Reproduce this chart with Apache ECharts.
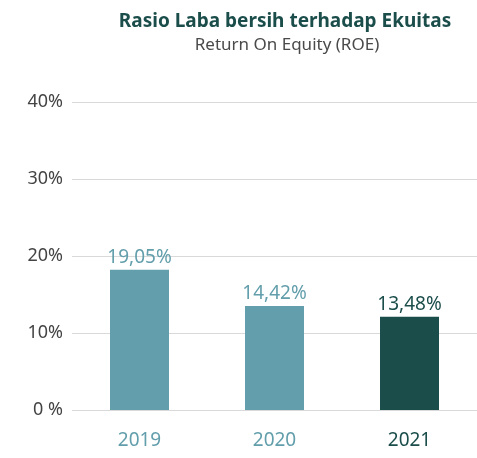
<!DOCTYPE html>
<html>
<head>
<meta charset="utf-8">
<script src="https://cdn.jsdelivr.net/npm/echarts@6/dist/echarts.min.js"></script>
<style>
  html, body { margin: 0; padding: 0; background: #fff; }
  #main { width: 477px; height: 458px; }
</style>
</head>
<body>
<div id="main"></div>
<script>
// ---------- ROE bar chart ----------
var years = ['2019', '2020', '2021'];
var roeValues = [18.2, 13.5, 12.1];
var roeLabels = ['19,05%', '14,42%', '13,48%'];
var yTicks = [0, 10, 20, 30, 40];

var teal = '#629eab';
var dark = '#1b4e4b';
var barColors = [teal, teal, dark];

var chart = echarts.init(document.getElementById('main'));

var option = {
    backgroundColor: '#fff',
    title: [{
        text: 'Rasio Laba bersih terhadap Ekuitas',
        left: 280,
        top: 7,
        textAlign: 'center',
        textStyle: {
            fontFamily: 'Noto Sans',
            fontWeight: 'bold',
            fontSize: 19,
            color: dark
        }
    }, {
        text: 'Return On Equity (ROE)',
        left: 282,
        top: 32,
        textAlign: 'center',
        textStyle: {
            fontFamily: 'Noto Sans',
            fontWeight: 'normal',
            fontSize: 17,
            color: '#4a4a4a'
        }
    }],
    grid: {
        left: 72,
        right: -10,
        top: 102,
        bottom: 48
    },
    xAxis: {
        type: 'category',
        data: years,
        axisLine: { show: false },
        axisTick: { show: false },
        axisLabel: {
            margin: 21,
            fontFamily: 'Noto Sans',
            fontSize: 19,
            color: function (v, i) { return barColors[i]; }
        }
    },
    yAxis: {
        type: 'value',
        min: yTicks[0],
        max: yTicks[yTicks.length - 1],
        interval: 10,
        axisLine: { show: false },
        axisTick: { show: false },
        splitLine: { lineStyle: { color: '#d9d9d9', width: 1 } },
        axisLabel: {
            margin: 9,
            fontFamily: 'Noto Sans',
            fontSize: 18,
            color: '#444',
            formatter: function (v) { return v === 0 ? '0 %' : v + '%'; }
        }
    },
    series: [{
        type: 'bar',
        barWidth: 59,
        data: roeValues.map(function (v, i) {
            return {
                value: v,
                itemStyle: { color: barColors[i] },
                label: { color: barColors[i] }
            };
        }),
        label: {
            show: true,
            position: 'top',
            distance: 3,
            fontFamily: 'Noto Sans',
            fontSize: 19,
            formatter: function (p) { return roeLabels[p.dataIndex]; }
        }
    }]
};

chart.setOption(option);
</script>
</body>
</html>
